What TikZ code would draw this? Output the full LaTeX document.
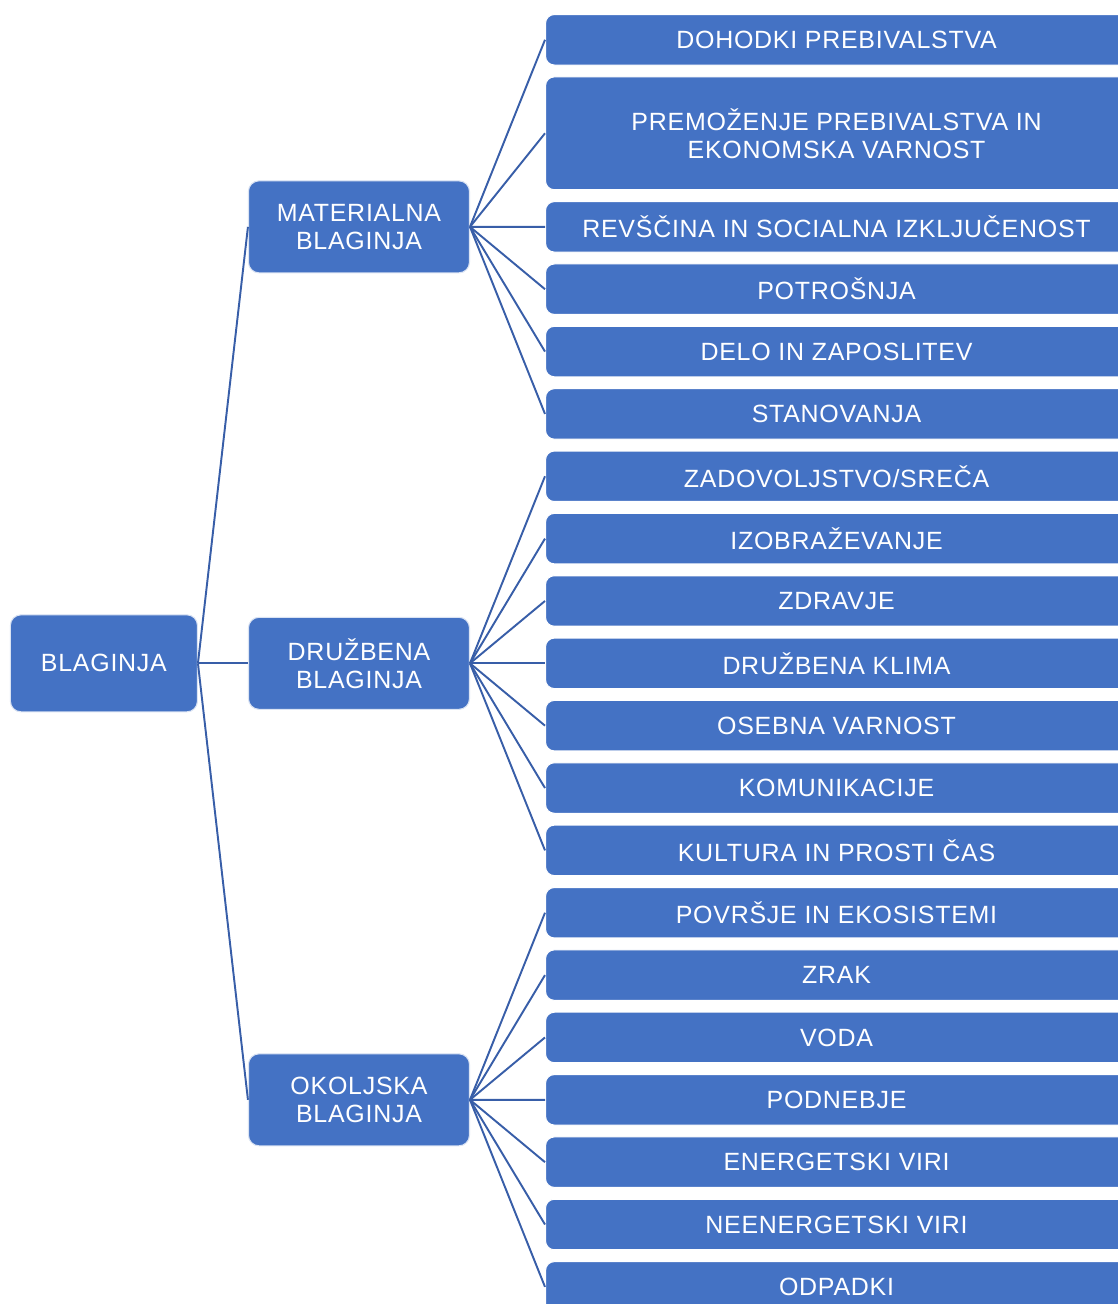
\documentclass[tikz,border=0pt]{standalone}
\usepackage{fontspec}
\setmainfont{Liberation Sans}[LetterSpace=3]
\usepackage{xcolor}
\usepackage{tikz}
\usetikzlibrary{positioning, calc}

\definecolor{boxblue}{RGB}{68,114,196}
\definecolor{lineblue}{RGB}{56,94,168}

\begin{document}
\begin{tikzpicture}[
    node distance=0.216cm,
    % Sub-topic boxes - right column
    leaf/.style={
        rectangle, draw=white, rounded corners=5pt,
        minimum width=11.64cm, minimum height=1.01cm,
        align=center, fill=boxblue, text=white,
        font=\fontsize{14.2}{16}\selectfont, line width=0.6pt,
        inner sep=0pt
    },
    % Main areas - middle column
    midbox/.style={
        rectangle, draw=white!80!boxblue, rounded corners=6pt,
        minimum width=4.42cm, minimum height=1.84cm,
        align=center, fill=boxblue, text=white,
        font=\fontsize{14.2}{16}\selectfont, line width=0.6pt,
        inner sep=0pt
    },
    % Root box
    rootbox/.style={
        rectangle, draw=white!80!boxblue, rounded corners=6pt,
        minimum width=3.74cm, minimum height=1.94cm,
        align=center, fill=boxblue, text=white,
        font=\fontsize{14.2}{16}\selectfont, line width=0.6pt,
        inner sep=0pt
    },
    link/.style={lineblue, line width=1.1pt},
]

\useasboundingbox (0,0) rectangle (22.36,-26.08);

% Material well-being - leaves
\node[leaf, anchor=north west] (dohodki) at (10.9,-0.28) {DOHODKI PREBIVALSTVA};
\node[leaf, below=of dohodki, minimum height=2.257cm] (premozenje) {PREMOŽENJE PREBIVALSTVA IN\\EKONOMSKA VARNOST};
\node[leaf, below=of premozenje] (revscina) {REVŠČINA IN SOCIALNA IZKLJUČENOST};
\node[leaf, below=of revscina] (potrosnja) {POTROŠNJA};
\node[leaf, below=of potrosnja] (delo) {DELO IN ZAPOSLITEV};
\node[leaf, below=of delo] (stanovanja) {STANOVANJA};

% Social well-being - leaves
\node[leaf, below=of stanovanja] (zadovoljstvo) {ZADOVOLJSTVO/SREČA};
\node[leaf, below=of zadovoljstvo] (izobrazevanje) {IZOBRAŽEVANJE};
\node[leaf, below=of izobrazevanje] (zdravje) {ZDRAVJE};
\node[leaf, below=of zdravje] (klima) {DRUŽBENA KLIMA};
\node[leaf, below=of klima] (varnost) {OSEBNA VARNOST};
\node[leaf, below=of varnost] (komunikacije) {KOMUNIKACIJE};
\node[leaf, below=of komunikacije] (kultura) {KULTURA IN PROSTI ČAS};

% Environmental well-being - leaves
\node[leaf, below=of kultura] (povrsje) {POVRŠJE IN EKOSISTEMI};
\node[leaf, below=of povrsje] (zrak) {ZRAK};
\node[leaf, below=of zrak] (voda) {VODA};
\node[leaf, below=of voda] (podnebje) {PODNEBJE};
\node[leaf, below=of podnebje] (energetski) {ENERGETSKI VIRI};
\node[leaf, below=of energetski] (neenergetski) {NEENERGETSKI VIRI};
\node[leaf, below=of neenergetski] (odpadki) {ODPADKI};

% Middle column - centred on its leaves
\coordinate (matmid) at ($(dohodki.west)!0.5!(stanovanja.west)$);
\coordinate (druzmid) at ($(zadovoljstvo.west)!0.5!(kultura.west)$);
\coordinate (okolmid) at ($(povrsje.west)!0.5!(odpadki.west)$);
\node[midbox, left=1.5cm of matmid] (materialna) {MATERIALNA\\BLAGINJA};
\node[midbox, left=1.5cm of druzmid] (druzbena) {DRUŽBENA\\BLAGINJA};
\node[midbox, left=1.5cm of okolmid] (okoljska) {OKOLJSKA\\BLAGINJA};

% Root
\node[rootbox, left=1cm of druzbena] (blaginja) {BLAGINJA};

% Links from root
\draw[link] (blaginja.east) -- (materialna.west);
\draw[link] (blaginja.east) -- (druzbena.west);
\draw[link] (blaginja.east) -- (okoljska.west);

% Links - material
\draw[link] (materialna.east) -- (dohodki.west);
\draw[link] (materialna.east) -- (premozenje.west);
\draw[link] (materialna.east) -- (revscina.west);
\draw[link] (materialna.east) -- (potrosnja.west);
\draw[link] (materialna.east) -- (delo.west);
\draw[link] (materialna.east) -- (stanovanja.west);

% Links - social
\draw[link] (druzbena.east) -- (zadovoljstvo.west);
\draw[link] (druzbena.east) -- (izobrazevanje.west);
\draw[link] (druzbena.east) -- (zdravje.west);
\draw[link] (druzbena.east) -- (klima.west);
\draw[link] (druzbena.east) -- (varnost.west);
\draw[link] (druzbena.east) -- (komunikacije.west);
\draw[link] (druzbena.east) -- (kultura.west);

% Links - environmental
\draw[link] (okoljska.east) -- (povrsje.west);
\draw[link] (okoljska.east) -- (zrak.west);
\draw[link] (okoljska.east) -- (voda.west);
\draw[link] (okoljska.east) -- (podnebje.west);
\draw[link] (okoljska.east) -- (energetski.west);
\draw[link] (okoljska.east) -- (neenergetski.west);
\draw[link] (okoljska.east) -- (odpadki.west);

\end{tikzpicture}
\end{document}
